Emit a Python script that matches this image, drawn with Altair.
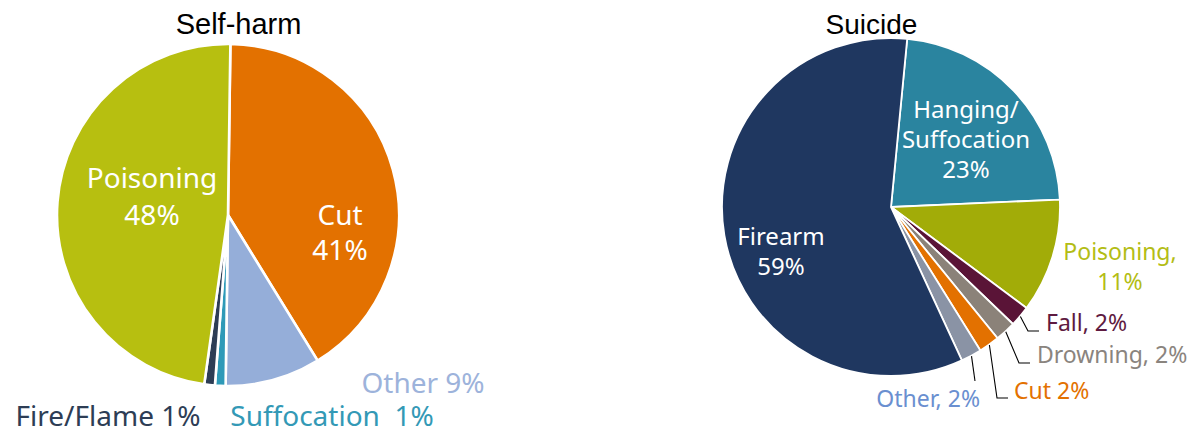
import math
import altair as alt
import pandas as pd

# ---------------- data ----------------
sh_title = "Self-harm"
sh_categories = ["Cut", "Other", "Suffocation", "Fire/Flame", "Poisoning"]
sh_values = [41, 9, 1, 1, 48]
sh_colors = ["#E37100", "#95AED9", "#2E9AB8", "#2D3D55", "#B7BF10"]

su_title = "Suicide"
su_categories = ["Hanging/Suffocation", "Poisoning", "Fall", "Drowning", "Cut", "Other", "Firearm"]
su_values = [23, 11, 2, 2, 2, 2, 59]
su_colors = ["#2A849F", "#A2AC08", "#5A1437", "#8B8279", "#E37100", "#8A93A5", "#1F3760"]

# ---------------- layout (plot-area pixels) ----------------
OFF = 8
W, H = 1180, 425
SH = dict(cx=228 - OFF, cy=215 - OFF, r=171, start=0.8, stroke=2.6, tx=238.5 - OFF, ty=34 - OFF, tsize=29)
SU = dict(cx=891 - OFF, cy=207 - OFF, r=169, start=5.5, stroke=1.8, tx=871.5 - OFF, ty=34 - OFF, tsize=28)

# label layout: category -> (line templates, dx, dy of first baseline, line height, align, colour, size)
sh_label_layout = {
    "Poisoning": (["{c}", "{v}%"], -76, -27, 37, "center", "white", 28),
    "Cut": (["{c}", "{v}%"], 112, 10, 35, "center", "white", 28),
    "Other": (["{c} {v}%"], 195, 178, 0, "center", "#9DB3DB", 28),
    "Fire/Flame": (["{c} {v}%"], -120, 211, 0, "center", "#2D3D55", 28),
    "Suffocation": (["{c}\u00a0 {v}%"], 104, 211, 0, "center", "#3399B6", 28),
}
su_label_layout = {
    "Hanging/Suffocation": (["Hanging/", "Suffocation", "{v}%"], 75, -89, 30, "center", "white", 24),
    "Firearm": (["{c}", "{v}%"], -110, 38, 30, "center", "white", 24),
    "Poisoning": (["{c},", "{v}%"], 229, 53, 30, "center", "#B3BD15", 23),
    "Fall": (["{c}, {v}%"], 155, 124, 0, "left", "#5E1A40", 23),
    "Drowning": (["{c}, {v}%"], 146, 156, 0, "left", "#8A847E", 23),
    "Cut": (["{c} {v}%"], 123, 192, 0, "left", "#E37100", 23),
    "Other": (["{c}, {v}%"], 89, 200, 0, "right", "#6A8FD0", 23),
}
# leader lines: category -> list of (dx, dy) points after the start on the slice edge
su_leaders = {
    "Fall": [(137, 124), (148, 124)],
    "Drowning": [(128, 156), (139, 156)],
    "Cut": [(106, 191), (117, 191)],
    "Other": [(84, 174)],
}


def build(cats, vals, cols, P, label_layout, leaders):
    total = sum(vals)
    arc_rows, text_rows, line_rows = [], [], []
    cum = 0
    for i, (c, v, col) in enumerate(zip(cats, vals, cols)):
        arc_rows.append(dict(cat=c, value=v, order=i, color=col))
        mid = math.radians(P["start"] + (cum + v / 2) / total * 360)
        cum += v
        if c in label_layout:
            lines, dx, dy, lh, al, tc, sz = label_layout[c]
            for k, t in enumerate(lines):
                text_rows.append(dict(text=t.format(c=c, v=v), x=P["cx"] + dx, y=P["cy"] + dy + k * lh,
                                      color=tc, size=sz, align=al))
        if c in leaders:
            re = P["r"] + 0.5
            pts = [(re * math.sin(mid), -re * math.cos(mid))] + leaders[c]
            for s, (px, py) in enumerate(pts):
                line_rows.append(dict(cat=c, seq=s, x=P["cx"] + px, y=P["cy"] + py))
    return pd.DataFrame(arc_rows), text_rows, line_rows


layers = []
all_text, all_lines = [], []
titles = []
for cats, vals, cols, P, ll, ld, ttl in [
    (sh_categories, sh_values, sh_colors, SH, sh_label_layout, {}, sh_title),
    (su_categories, su_values, su_colors, SU, su_label_layout, su_leaders, su_title),
]:
    adf, trows, lrows = build(cats, vals, cols, P, ll, ld)
    a0 = math.radians(P["start"])
    layers.append(
        alt.Chart(adf).mark_arc(outerRadius=P["r"], stroke="white", strokeWidth=P["stroke"]).encode(
            theta=alt.Theta("value:Q", stack=True, scale=alt.Scale(range=[a0, a0 + 2 * math.pi])),
            color=alt.Color("color:N", scale=None),
            order=alt.Order("order:Q"),
            x=alt.value(P["cx"]),
            y=alt.value(P["cy"]),
        )
    )
    all_text += trows
    all_lines += [dict(r, cat=ttl + r["cat"]) for r in lrows]
    titles.append(dict(text=ttl, x=P["tx"], y=P["ty"], size=P["tsize"]))

if all_lines:
    layers.append(
        alt.Chart(pd.DataFrame(all_lines)).mark_line(color="black", strokeWidth=1.1).encode(
            x=alt.X("x:Q", scale=None, axis=None),
            y=alt.Y("y:Q", scale=None, axis=None),
            detail="cat:N",
            order="seq:Q",
        )
    )

tdf = pd.DataFrame(all_text)
for al in ["center", "left", "right"]:
    sub = tdf[tdf["align"] == al]
    if len(sub) == 0:
        continue
    layers.append(
        alt.Chart(sub).mark_text(align=al, baseline="alphabetic", font="Noto Sans").encode(
            x=alt.X("x:Q", scale=None, axis=None),
            y=alt.Y("y:Q", scale=None, axis=None),
            text="text:N",
            color=alt.Color("color:N", scale=None),
            size=alt.Size("size:Q", scale=None),
        )
    )

layers.append(
    alt.Chart(pd.DataFrame(titles)).mark_text(align="center", baseline="alphabetic", font="Liberation Sans",
                                               color="black").encode(
        x=alt.X("x:Q", scale=None, axis=None),
        y=alt.Y("y:Q", scale=None, axis=None),
        text="text:N",
        size=alt.Size("size:Q", scale=None),
    )
)

chart = (
    alt.layer(*layers)
    .resolve_scale(theta="independent")
    .properties(width=W, height=H, autosize=alt.AutoSizeParams(type="none"), padding=0)
    .configure_view(stroke=None)
)

chart.save("out.html", embed_options={"renderer": "svg", "actions": False})
